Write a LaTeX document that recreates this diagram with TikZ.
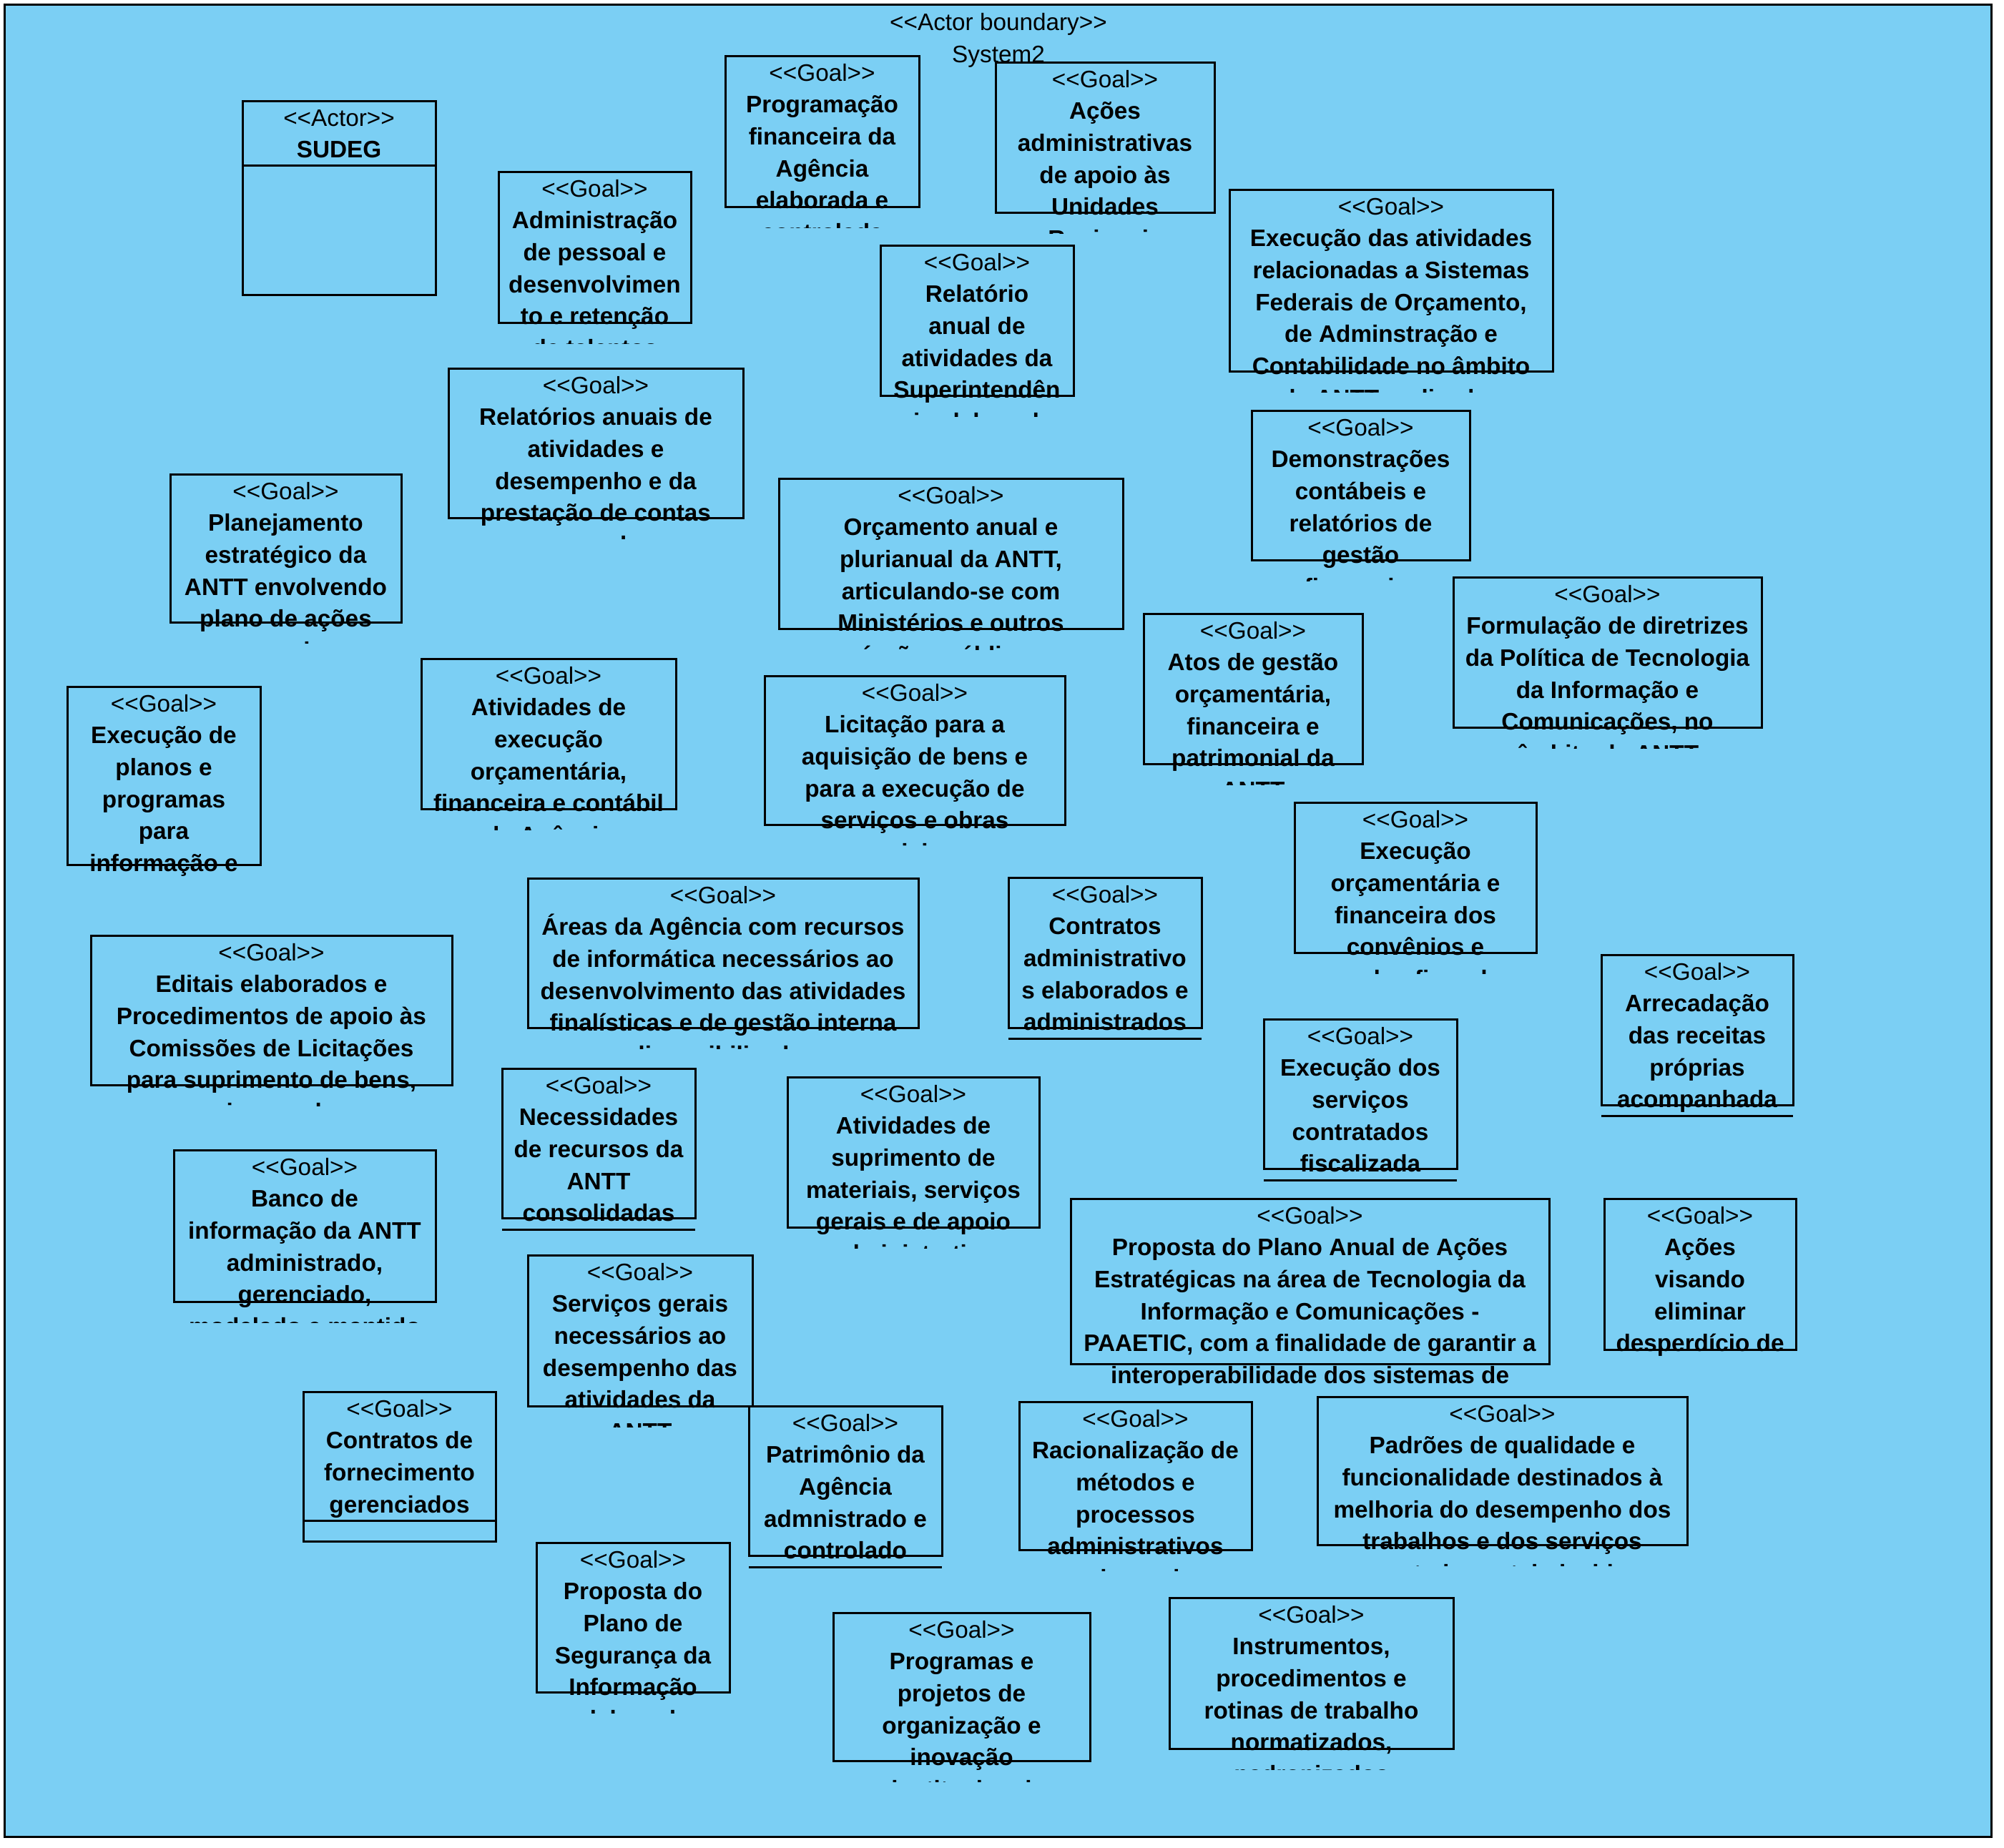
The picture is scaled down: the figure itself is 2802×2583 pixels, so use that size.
\documentclass[tikz,border=0pt]{standalone}
\usepackage{fontspec}
\setmainfont{Liberation Sans}
\definecolor{bndfill}{RGB}{123,207,244}
\newcommand\goalhdr{<\kern0pt<Goal>\kern0pt>}
\newcommand\gbox[7]{%
  \node[boxsty, minimum width={(#5-#3)*1pt}, minimum height={(#6-#4)*1pt}] (#1) at ({(#3+#5)/2},{(#4+#6)/2}) {};
  \begin{scope}
    \clip ({#3-40},{#4}) rectangle ({#5+40},{#6+29});
    \node[hdr] (#1-h) at ({(#3+#5)/2},{#4+35}) {#2};
    \foreach \gline [count=\i] in {#7} {
      \node[txt] (#1-\i) at ({(#3+#5)/2},{#4+35+\i*44.7}) {\gline};
    }
  \end{scope}}
\newcommand\gsep[2]{%
  \coordinate (#1-s) at (0,#2);
  \draw[sepsty] (#1.west |- #1-s) -- (#1.east |- #1-s);}
\tikzset{
  boxsty/.style={draw=black, line width=3pt, inner sep=0pt, outer sep=0pt, rectangle},
  sepsty/.style={draw=black, line width=3pt},
  hdr/.style={anchor=base, inner sep=0pt, font=\fontsize{33.3pt}{44.7pt}\selectfont},
  txt/.style={anchor=base, inner sep=0pt, font=\fontsize{33.3pt}{44.7pt}\selectfont\bfseries},
}
\begin{document}
\begin{tikzpicture}[x=1pt, y=-1pt]
\useasboundingbox (0,0) rectangle (2802,2583);
\fill[white] (0,0) rectangle (2802,2583);
\node[boxsty, fill=bndfill, minimum width=2778pt, minimum height=2562pt] (bnd) at (1395,1287) {};
\node[hdr] (t1) at (1396,42) {<\kern0pt<Actor boundary>\kern0pt>};
\node[hdr] (t2) at (1396,87) {System2};

\gbox{act}{<\kern0pt<Actor>\kern0pt>}{339}{141}{609}{412}{SUDEG}
\gsep{act}{231}

\gbox{g2}{\goalhdr}{697}{240}{966}{451}{Administração,de pessoal e,desenvolvimen,to e retenção,de talentos}
\gbox{g3}{\goalhdr}{1014}{78}{1285}{289}{Programação,financeira da,Agência,elaborada e,controlada}
\gbox{g4}{\goalhdr}{1392}{87}{1698}{297}{Ações,administrativas,de apoio às,Unidades,Regionais}
\gbox{g5}{\goalhdr}{1231}{343}{1501}{553}{Relatório,anual de,atividades da,Superintendên,cia elaborado}
\gbox{g6}{\goalhdr}{1719}{265}{2171}{519}{Execução das atividades,relacionadas a Sistemas,{Federais de Orçamento,},de Adminstração e,Contabilidade no âmbito,da ANTT realizadas}
\gbox{g7}{\goalhdr}{627}{515}{1039}{724}{Relatórios anuais de,atividades e,desempenho e da,prestação de contas,anual}
\gbox{g8}{\goalhdr}{238}{663}{561}{870}{Planejamento,estratégico da,ANTT envolvendo,plano de ações,anuais}
\gbox{g9}{\goalhdr}{1089}{669}{1570}{879}{Orçamento anual e,{plurianual da ANTT,},articulando-se com,Ministérios e outros,órgãos públicos}
\gbox{g10}{\goalhdr}{1750}{574}{2055}{783}{Demonstrações,contábeis e,relatórios de,gestão,financeira}
\gbox{g11}{\goalhdr}{2032}{807}{2463}{1017}{Formulação de diretrizes,da Política de Tecnologia,da Informação e,{Comunicações, no},âmbito da ANTT}
\gbox{g12}{\goalhdr}{1599}{858}{1905}{1068}{Atos de gestão,{orçamentária,},financeira e,patrimonial da,ANTT}
\gbox{g13}{\goalhdr}{94}{960}{364}{1209}{Execução de,planos e,programas,para,informação e}
\gbox{g14}{\goalhdr}{589}{921}{945}{1131}{Atividades de,execução,{orçamentária,},financeira e contábil,da Agência}
\gbox{g15}{\goalhdr}{1069}{945}{1489}{1153}{Licitação para a,aquisição de bens e,para a execução de,serviços e obras,civis}
\gbox{g16}{\goalhdr}{738}{1228}{1284}{1437}{Áreas da Agência com recursos,de informática necessários ao,desenvolvimento das atividades,finalísticas e de gestão interna,disponibilizadas}
\gbox{g17}{\goalhdr}{1410}{1227}{1680}{1437}{Contratos,administrativo,s elaborados e,administrados}
\gsep{g17}{1452}
\gbox{g18}{\goalhdr}{1810}{1122}{2148}{1332}{Execução,orçamentária e,financeira dos,convênios e,acordos firmados}
\gbox{g19}{\goalhdr}{127}{1308}{632}{1517}{Editais elaborados e,Procedimentos de apoio às,Comissões de Licitações,{para suprimento de bens,},serviços e obras}
\gbox{g20}{\goalhdr}{2239}{1335}{2507}{1545}{Arrecadação,das receitas,próprias,acompanhada}
\gsep{g20}{1560}
\gbox{g21}{\goalhdr}{1767}{1425}{2037}{1634}{Execução dos,serviços,contratados,fiscalizada}
\gsep{g21}{1650}
\gbox{g22}{\goalhdr}{702}{1494}{972}{1703}{Necessidades,de recursos da,ANTT,consolidadas}
\gsep{g22}{1719}
\gbox{g23}{\goalhdr}{1101}{1506}{1453}{1716}{Atividades de,suprimento de,{materiais, serviços},gerais e de apoio,administrativo}
\gbox{g24}{\goalhdr}{243}{1608}{609}{1820}{Banco de,informação da ANTT,{administrado,},{gerenciado,},modelado e mantido}
\gbox{g25}{\goalhdr}{1497}{1676}{2166}{1907}{Proposta do Plano Anual de Ações,Estratégicas na área de Tecnologia da,Informação e Comunicações -,{PAAETIC, com a finalidade de garantir a},interoperabilidade dos sistemas de}
\gbox{g26}{\goalhdr}{2243}{1676}{2511}{1887}{Ações,visando,eliminar,desperdício de}
\gbox{g27}{\goalhdr}{738}{1755}{1052}{1966}{Serviços gerais,necessários ao,desempenho das,atividades da,ANTT}
\gbox{g28}{\goalhdr}{424}{1946}{693}{2155}{Contratos de,fornecimento,gerenciados}
\gsep{g28}{2126}
\gbox{g29}{\goalhdr}{1047}{1966}{1317}{2175}{Patrimônio da,Agência,admnistrado e,controlado}
\gsep{g29}{2191}
\gbox{g30}{\goalhdr}{1425}{1960}{1750}{2167}{Racionalização de,métodos e,processos,administrativos,aprimorados}
\gbox{g31}{\goalhdr}{1842}{1953}{2359}{2160}{Padrões de qualidade e,funcionalidade destinados à,melhoria do desempenho dos,trabalhos e dos serviços,prestados estabelecidos}
\gbox{g32}{\goalhdr}{750}{2157}{1020}{2366}{Proposta do,Plano de,Segurança da,Informação,elaborada}
\gbox{g33}{\goalhdr}{1165}{2255}{1524}{2462}{Programas e,projetos de,organização e,inovação,institucional}
\gbox{g34}{\goalhdr}{1635}{2234}{2032}{2445}{{Instrumentos,},procedimentos e,rotinas de trabalho,{normatizados,},padronizados}
\end{tikzpicture}
\end{document}
